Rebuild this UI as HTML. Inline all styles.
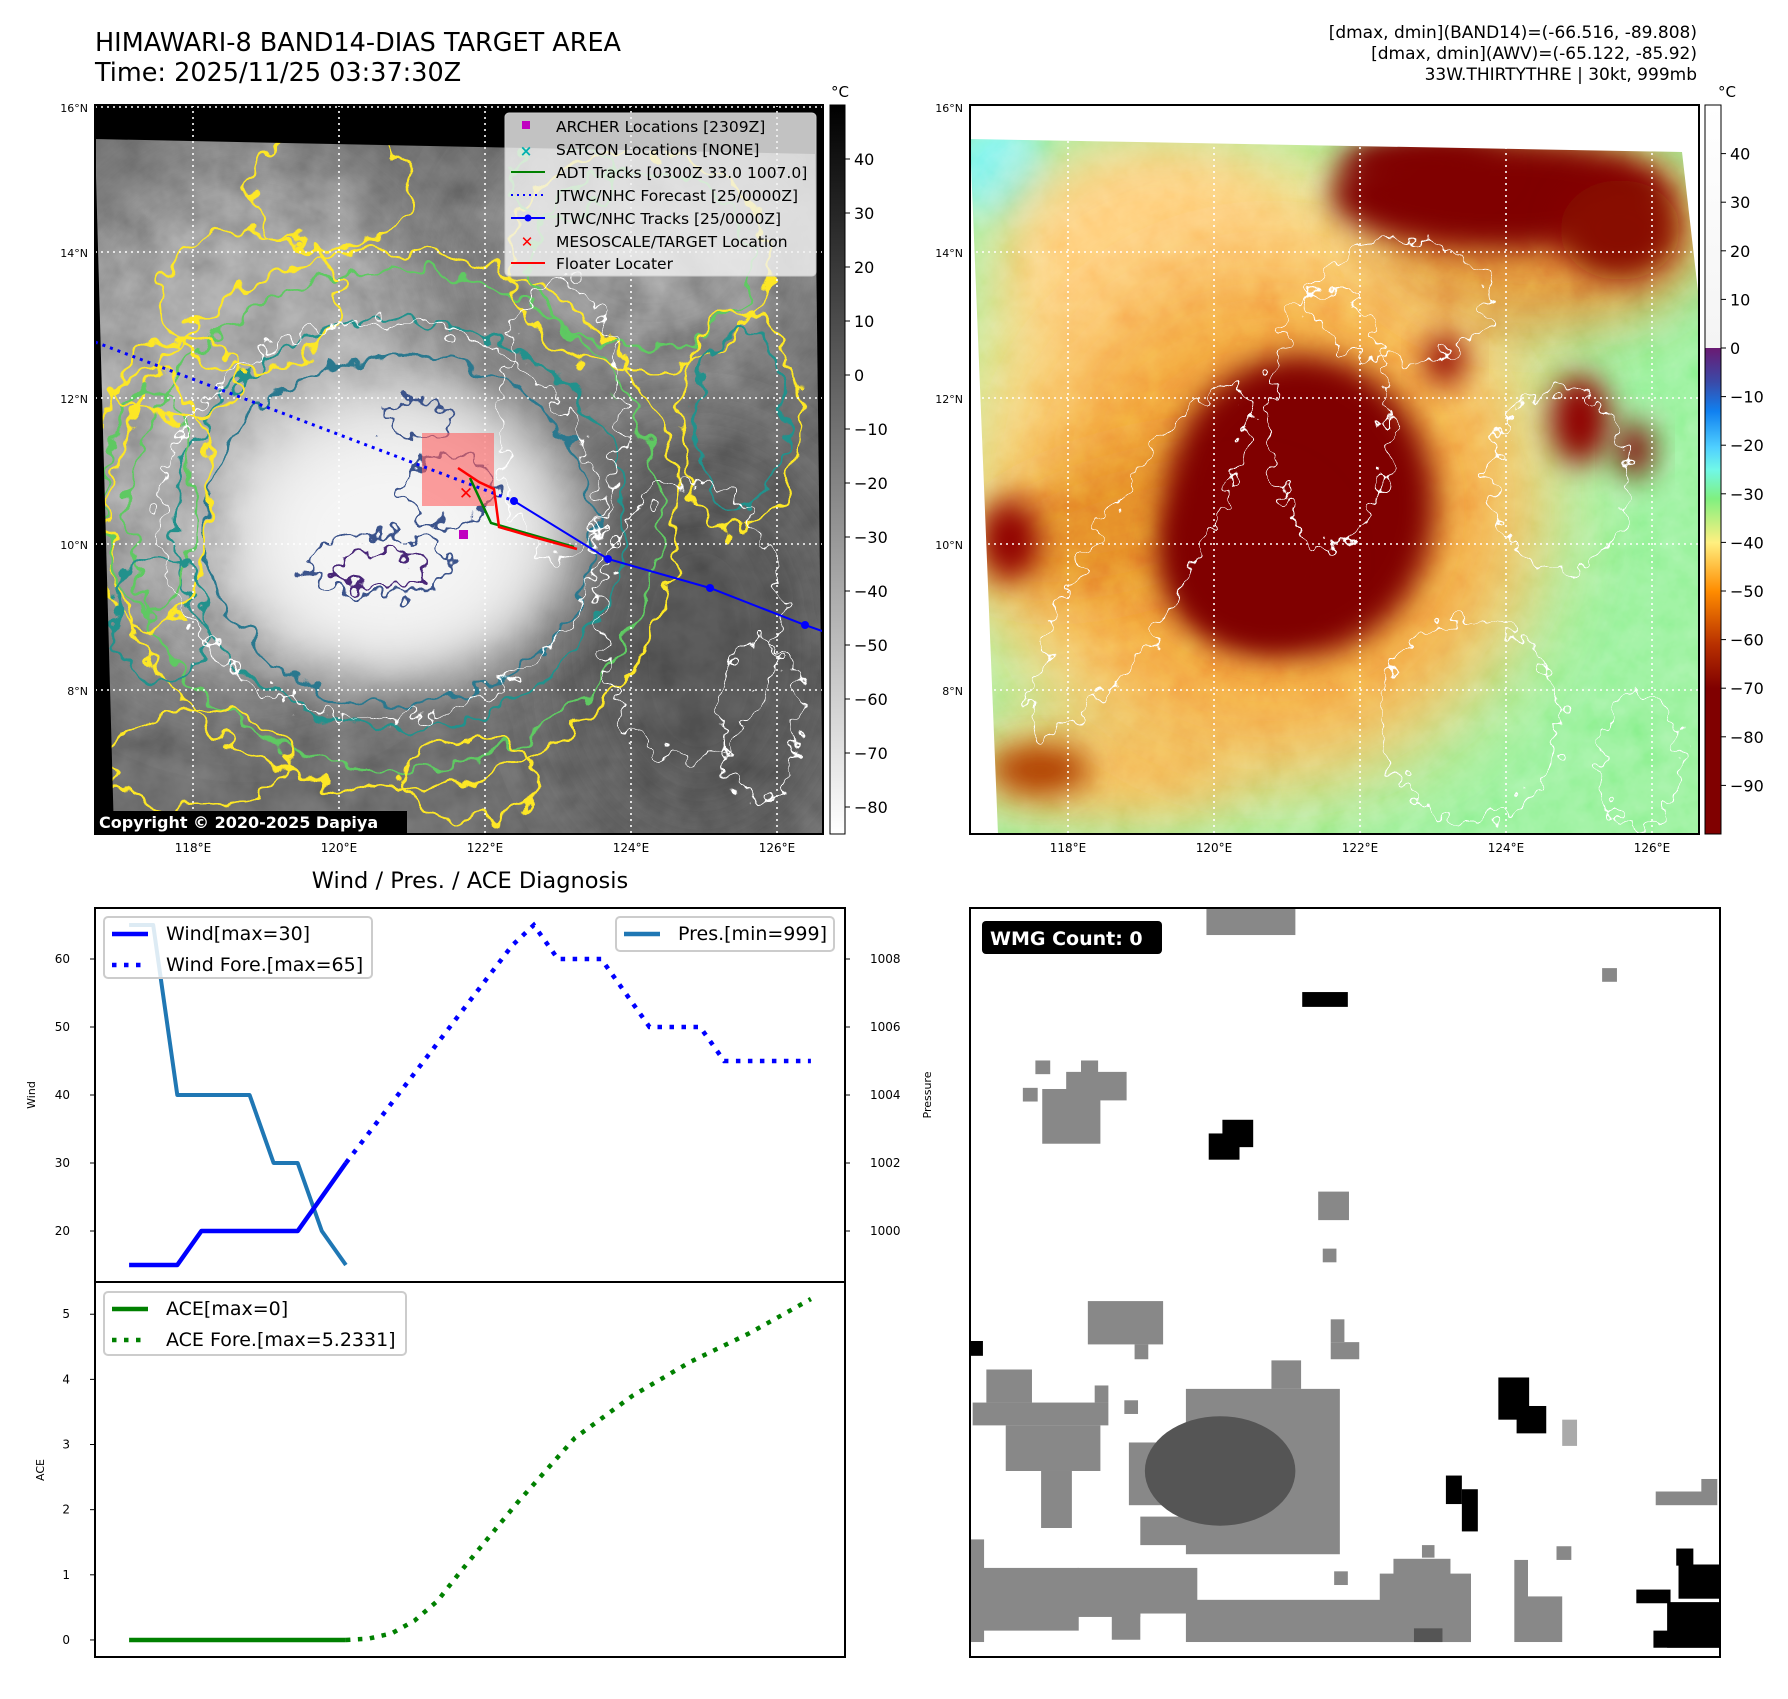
<!DOCTYPE html>
<html><head><meta charset="utf-8"><style>
html,body{margin:0;padding:0;background:#fff;}
body{width:1788px;height:1694px;position:relative;overflow:hidden;font-family:"Liberation Sans","DejaVu Sans",sans-serif;}
svg text{font-family:"DejaVu Sans","Liberation Sans",sans-serif;}
</style></head><body>
<svg id="fig" width="1788" height="1694" viewBox="0 0 1788 1694" xmlns="http://www.w3.org/2000/svg">
<defs>
  <filter id="grayNoise" x="0" y="0" width="100%" height="100%">
    <feTurbulence type="fractalNoise" baseFrequency="0.025" numOctaves="4" seed="3"/>
    <feColorMatrix type="matrix" values="0.33 0.33 0.33 0 0  0.33 0.33 0.33 0 0  0.33 0.33 0.33 0 0  0 0 0 0 1"/>
  </filter>
  <filter id="colNoise" x="0" y="0" width="100%" height="100%">
    <feTurbulence type="fractalNoise" baseFrequency="0.035" numOctaves="4" seed="7"/>
    <feColorMatrix type="matrix" values="0.33 0.33 0.33 0 0  0.33 0.33 0.33 0 0  0.33 0.33 0.33 0 0  0 0 0 0 1"/>
  </filter>
  <filter id="wiggle" x="-10%" y="-10%" width="120%" height="120%">
    <feTurbulence type="fractalNoise" baseFrequency="0.045" numOctaves="2" seed="5" result="n"/>
    <feDisplacementMap in="SourceGraphic" in2="n" scale="34" xChannelSelector="R" yChannelSelector="G"/>
  </filter>
  <filter id="wiggle2" x="-10%" y="-10%" width="120%" height="120%">
    <feTurbulence type="fractalNoise" baseFrequency="0.06" numOctaves="2" seed="11" result="n"/>
    <feDisplacementMap in="SourceGraphic" in2="n" scale="40" xChannelSelector="R" yChannelSelector="G"/>
  </filter>
  <filter id="blur30" x="-60%" y="-60%" width="220%" height="220%"><feGaussianBlur stdDeviation="30"/></filter>
  <filter id="blur15" x="-60%" y="-60%" width="220%" height="220%"><feGaussianBlur stdDeviation="15"/></filter>
  <filter id="blur50" x="-60%" y="-60%" width="220%" height="220%"><feGaussianBlur stdDeviation="50"/></filter>
  <clipPath id="clipL"><rect x="95" y="105" width="728" height="729"/></clipPath>
  <clipPath id="clipLimg"><polygon points="95,139 815,154 823,834 114,834"/></clipPath>
  <clipPath id="clipR"><polygon points="970,139 1682,152 1699,300 1699,834 998,834"/></clipPath>
  <linearGradient id="cbL" x1="0" y1="0" x2="0" y2="1">
    <stop offset="0" stop-color="#000"/><stop offset="1" stop-color="#fff"/>
  </linearGradient>
  <linearGradient id="cbR" x1="0" y1="0" x2="0" y2="1">
    <stop offset="0" stop-color="#ffffff"/>
    <stop offset="0.333" stop-color="#f4f4f4"/>
    <stop offset="0.3334" stop-color="#6a1a72"/>
    <stop offset="0.38" stop-color="#3a4aa8"/>
    <stop offset="0.42" stop-color="#1080f0"/>
    <stop offset="0.47" stop-color="#50d0ff"/>
    <stop offset="0.5" stop-color="#70f8e8"/>
    <stop offset="0.54" stop-color="#80f080"/>
    <stop offset="0.6" stop-color="#fff080"/>
    <stop offset="0.667" stop-color="#ff8c00"/>
    <stop offset="0.74" stop-color="#b83000"/>
    <stop offset="0.8" stop-color="#800000"/>
    <stop offset="1" stop-color="#800000"/>
  </linearGradient>
</defs>

<!-- Titles -->
<text x="95" y="51" font-size="25.5">HIMAWARI-8 BAND14-DIAS TARGET AREA</text>
<text x="95" y="81" font-size="25.5">Time: 2025/11/25 03:37:30Z</text>
<g font-size="17" text-anchor="end">
  <text x="1697" y="38">[dmax, dmin](BAND14)=(-66.516, -89.808)</text>
  <text x="1697" y="59">[dmax, dmin](AWV)=(-65.122, -85.92)</text>
  <text x="1697" y="80">33W.THIRTYTHRE | 30kt, 999mb</text>
</g>

<!-- LEFT MAP -->
<g clip-path="url(#clipL)">
  <rect x="95" y="105" width="728" height="729" fill="#000"/>
  <g clip-path="url(#clipLimg)">
    <rect x="95" y="105" width="728" height="729" fill="#575757"/>
    <ellipse cx="250" cy="420" rx="200" ry="260" fill="#8a8a8a" filter="url(#blur50)"/>
    <ellipse cx="650" cy="260" rx="160" ry="120" fill="#7a7a7a" filter="url(#blur50)"/>
    <ellipse cx="700" cy="650" rx="140" ry="200" fill="#444" filter="url(#blur50)"/>
    <rect x="95" y="105" width="728" height="729" filter="url(#grayNoise)" opacity="0.6" style="mix-blend-mode:overlay"/>
    <ellipse cx="400" cy="530" rx="180" ry="150" fill="#e0e0e0" filter="url(#blur30)"/>
    <ellipse cx="390" cy="540" rx="130" ry="110" fill="#f4f4f4" filter="url(#blur30)"/>
    <g filter="url(#wiggle)" fill="none" stroke-width="3">
      <ellipse cx="395" cy="520" rx="285" ry="270" stroke="#fde725"/>
      <ellipse cx="395" cy="520" rx="265" ry="250" stroke="#5ec962"/>
      <ellipse cx="400" cy="525" rx="225" ry="205" stroke="#21918c"/>
      <ellipse cx="400" cy="530" rx="195" ry="175" stroke="#2a788e"/>
      <ellipse cx="250" cy="300" rx="90" ry="70" stroke="#fde725"/>
      <ellipse cx="150" cy="500" rx="60" ry="130" stroke="#fde725"/>
      <ellipse cx="150" cy="500" rx="45" ry="110" stroke="#5ec962"/>
      <ellipse cx="160" cy="620" rx="50" ry="60" stroke="#21918c"/>
      <ellipse cx="640" cy="260" rx="130" ry="110" stroke="#fde725"/>
      <ellipse cx="640" cy="260" rx="110" ry="90" stroke="#5ec962"/>
      <ellipse cx="740" cy="420" rx="60" ry="110" stroke="#fde725"/>
      <ellipse cx="740" cy="420" rx="45" ry="90" stroke="#21918c"/>
      <ellipse cx="330" cy="190" rx="80" ry="60" stroke="#fde725"/>
      <ellipse cx="200" cy="760" rx="90" ry="50" stroke="#fde725"/>
      <ellipse cx="470" cy="780" rx="70" ry="40" stroke="#fde725"/>
      <ellipse cx="180" cy="380" rx="60" ry="40" stroke="#fde725"/>
      <ellipse cx="560" cy="180" rx="50" ry="40" stroke="#5ec962"/>
    </g>
    <g filter="url(#wiggle2)" fill="none" stroke-width="3" stroke="#3b528b">
      <ellipse cx="380" cy="565" rx="70" ry="30"/>
      <ellipse cx="450" cy="490" rx="45" ry="35"/>
      <ellipse cx="420" cy="420" rx="35" ry="20"/>
      <ellipse cx="380" cy="570" rx="45" ry="18" stroke="#482878"/>
    </g>
    <g filter="url(#wiggle2)" fill="none" stroke-width="1.5" stroke="#fff">
      <ellipse cx="690" cy="620" rx="90" ry="140"/>
      <ellipse cx="560" cy="420" rx="60" ry="140"/>
      <ellipse cx="760" cy="720" rx="40" ry="80"/>
      <ellipse cx="380" cy="520" rx="220" ry="200"/>
    </g>
  </g>
  <g stroke="#fff" stroke-width="1.6" stroke-dasharray="2 4">
    <line x1="193" y1="105" x2="193" y2="834"/><line x1="339" y1="105" x2="339" y2="834"/>
    <line x1="485" y1="105" x2="485" y2="834"/><line x1="631" y1="105" x2="631" y2="834"/>
    <line x1="777" y1="105" x2="777" y2="834"/>
    <line x1="95" y1="107" x2="823" y2="107"/><line x1="95" y1="252" x2="823" y2="252"/>
    <line x1="95" y1="398" x2="823" y2="398"/><line x1="95" y1="544" x2="823" y2="544"/>
    <line x1="95" y1="690" x2="823" y2="690"/>
  </g>
  <rect x="422" y="433" width="72" height="73" fill="#ff6060" opacity="0.6"/>
  <polyline points="95,342 514,501" fill="none" stroke="#00f" stroke-width="3" stroke-dasharray="3 5"/>
  <polyline points="514,501 608,559 710,588 805,625 825,632" fill="none" stroke="#00f" stroke-width="2"/>
  <g fill="#00f"><circle cx="514" cy="501" r="4"/><circle cx="608" cy="559" r="4"/><circle cx="710" cy="588" r="4"/><circle cx="805" cy="625" r="4"/></g>
  <polyline points="470,478 491,523 574,547" fill="none" stroke="#008000" stroke-width="2.5"/>
  <polyline points="458,468 479,482 494,489 499,527 530,536 577,549" fill="none" stroke="#f00" stroke-width="2.5"/>
  <text x="466" y="499" fill="#f00" font-size="17" font-weight="bold" text-anchor="middle">✕</text>
  <rect x="459" y="530" width="9" height="9" fill="#c000c0"/>
  <g>
    <rect x="505" y="113" width="311" height="163" rx="4" fill="#f2f2f2" fill-opacity="0.8" stroke="#ccc"/>
    <g font-size="15.5" fill="#000">
      <rect x="522" y="121" width="8" height="8" fill="#c000c0"/><text x="556" y="132">ARCHER Locations [2309Z]</text>
      <text x="526" y="156" fill="#00b0b0" font-size="15" text-anchor="middle" font-weight="bold">×</text><text x="556" y="155">SATCON Locations [NONE]</text>
      <line x1="511" y1="172" x2="545" y2="172" stroke="#008000" stroke-width="2"/><text x="556" y="178">ADT Tracks [0300Z 33.0 1007.0]</text>
      <line x1="511" y1="195" x2="545" y2="195" stroke="#00f" stroke-width="2" stroke-dasharray="2 4"/><text x="556" y="201">JTWC/NHC Forecast [25/0000Z]</text>
      <line x1="511" y1="218" x2="545" y2="218" stroke="#00f" stroke-width="2"/><circle cx="528" cy="218" r="3.5" fill="#00f"/><text x="556" y="224">JTWC/NHC Tracks [25/0000Z]</text>
      <text x="527" y="247" fill="#f00" font-size="15" font-weight="bold" text-anchor="middle">✕</text><text x="556" y="247">MESOSCALE/TARGET Location</text>
      <line x1="511" y1="263" x2="545" y2="263" stroke="#f00" stroke-width="2"/><text x="556" y="269">Floater Locater</text>
    </g>
  </g>
  <rect x="95" y="811" width="312" height="23" fill="#000"/>
  <text x="99" y="828" fill="#fff" font-size="16" font-weight="bold">Copyright © 2020-2025 Dapiya</text>
</g>
<rect x="95" y="105" width="728" height="729" fill="none" stroke="#000" stroke-width="2"/>
<g font-size="11" text-anchor="end">
  <text x="88" y="112">16°N</text><text x="88" y="257">14°N</text><text x="88" y="403">12°N</text><text x="88" y="549">10°N</text><text x="88" y="695">8°N</text>
</g>
<g font-size="12" text-anchor="middle">
  <text x="193" y="852">118°E</text><text x="339" y="852">120°E</text><text x="485" y="852">122°E</text><text x="631" y="852">124°E</text><text x="777" y="852">126°E</text>
</g>
<!-- Left colorbar -->
<g>
  <rect x="830" y="105" width="15" height="729" fill="url(#cbL)" stroke="#000" stroke-width="1"/>
  <text x="840" y="97" font-size="15" text-anchor="middle">°C</text>
  <g font-size="16" id="cbLticks"></g>
</g>

<!-- RIGHT MAP -->
<g>
  <g clip-path="url(#clipR)">
    <rect x="970" y="105" width="729" height="729" fill="#88f08c"/>
    <ellipse cx="1000" cy="170" rx="50" ry="50" fill="#70f4f0" filter="url(#blur15)"/>
    <ellipse cx="1250" cy="470" rx="300" ry="320" fill="#ffd878" filter="url(#blur50)"/>
    <ellipse cx="1150" cy="260" rx="150" ry="120" fill="#ffc870" filter="url(#blur30)"/>
    <ellipse cx="1100" cy="770" rx="140" ry="50" fill="#f8b050" filter="url(#blur30)"/>
    <ellipse cx="1270" cy="510" rx="240" ry="240" fill="#f09030" filter="url(#blur50)"/>
    <ellipse cx="1130" cy="520" rx="170" ry="60" fill="#e07820" transform="rotate(-15 1130 520)" filter="url(#blur30)"/>
    <ellipse cx="1540" cy="230" rx="170" ry="100" fill="#e08030" filter="url(#blur30)"/>
    <rect x="970" y="105" width="729" height="729" filter="url(#colNoise)" opacity="0.45" style="mix-blend-mode:overlay"/>
    <ellipse cx="1300" cy="505" rx="135" ry="150" fill="#800000" filter="url(#blur15)"/>
    <ellipse cx="1250" cy="560" rx="90" ry="90" fill="#800000" filter="url(#blur15)"/>
    <ellipse cx="1500" cy="195" rx="170" ry="55" fill="#800000" filter="url(#blur15)"/>
    <ellipse cx="1420" cy="165" rx="80" ry="30" fill="#800000" filter="url(#blur15)"/>
    <ellipse cx="1620" cy="230" rx="60" ry="50" fill="#880800" filter="url(#blur15)"/>
    <ellipse cx="1445" cy="360" rx="20" ry="25" fill="#900000" filter="url(#blur15)"/>
    <ellipse cx="1580" cy="420" rx="30" ry="45" fill="#900000" filter="url(#blur15)"/>
    <ellipse cx="1635" cy="450" rx="18" ry="28" fill="#800000" filter="url(#blur15)"/>
    <ellipse cx="1010" cy="540" rx="30" ry="40" fill="#900000" filter="url(#blur15)"/>
    <ellipse cx="1040" cy="770" rx="50" ry="25" fill="#b04000" filter="url(#blur15)"/>
    <g filter="url(#wiggle2)" fill="none" stroke-width="1.5" stroke="#fff">
      <ellipse cx="1470" cy="720" rx="90" ry="100"/>
      <ellipse cx="1330" cy="420" rx="60" ry="130"/>
      <ellipse cx="1640" cy="760" rx="40" ry="70"/>
      <ellipse cx="1140" cy="560" rx="50" ry="200" transform="rotate(30 1140 560)"/>
      <ellipse cx="1400" cy="300" rx="90" ry="60"/>
      <ellipse cx="1560" cy="480" rx="70" ry="90"/>
    </g>
  </g>
  <g stroke="#fff" stroke-width="1.6" stroke-dasharray="2 4">
    <line x1="1068" y1="105" x2="1068" y2="834"/><line x1="1214" y1="105" x2="1214" y2="834"/>
    <line x1="1360" y1="105" x2="1360" y2="834"/><line x1="1506" y1="105" x2="1506" y2="834"/>
    <line x1="1652" y1="105" x2="1652" y2="834"/>
    <line x1="970" y1="252" x2="1699" y2="252"/><line x1="970" y1="398" x2="1699" y2="398"/>
    <line x1="970" y1="544" x2="1699" y2="544"/><line x1="970" y1="690" x2="1699" y2="690"/>
  </g>
  <rect x="970" y="105" width="729" height="729" fill="none" stroke="#000" stroke-width="2"/>
</g>
<g font-size="11" text-anchor="end">
  <text x="963" y="112">16°N</text><text x="963" y="257">14°N</text><text x="963" y="403">12°N</text><text x="963" y="549">10°N</text><text x="963" y="695">8°N</text>
</g>
<g font-size="12" text-anchor="middle">
  <text x="1068" y="852">118°E</text><text x="1214" y="852">120°E</text><text x="1360" y="852">122°E</text><text x="1506" y="852">124°E</text><text x="1652" y="852">126°E</text>
</g>
<g>
  <rect x="1705" y="105" width="16" height="729" fill="url(#cbR)" stroke="#000" stroke-width="1"/>
  <text x="1727" y="97" font-size="15" text-anchor="middle">°C</text>
  <g font-size="16" id="cbRticks"></g>
</g>

<!-- DIAGNOSIS CHARTS -->
<text x="470" y="888" font-size="22.5" text-anchor="middle">Wind / Pres. / ACE Diagnosis</text>
<g id="windPanel"></g>
<g id="acePanel"></g>
<rect x="95" y="908" width="750" height="374" fill="none" stroke="#000" stroke-width="2"/>
<rect x="95" y="1282" width="750" height="375" fill="none" stroke="#000" stroke-width="2"/>
<text x="35" y="1095" font-size="11" text-anchor="middle" transform="rotate(-90 35 1095)">Wind</text>
<text x="931" y="1095" font-size="11" text-anchor="middle" transform="rotate(-90 931 1095)">Pressure</text>
<text x="44" y="1470" font-size="11" text-anchor="middle" transform="rotate(-90 44 1470)">ACE</text>

<!-- WMG panel -->
<g>
  <rect x="970" y="908" width="750" height="749" fill="#fff"/>
  <g transform="scale(1.1403)">
    <g fill="#888">
      <rect x="1058" y="796" width="78" height="24"/>
      <rect x="1405" y="849" width="13" height="12"/>
      <rect x="908" y="930" width="13" height="12"/><rect x="897" y="954" width="13" height="12"/>
      <rect x="914" y="955" width="51" height="48"/><rect x="935" y="940" width="53" height="25"/><rect x="948" y="930" width="15" height="12"/>
      <rect x="1156" y="1045" width="27" height="25"/><rect x="1160" y="1095" width="12" height="12"/>
      <rect x="954" y="1141" width="66" height="38"/><rect x="995" y="1179" width="12" height="13"/>
      <rect x="1167" y="1157" width="12" height="20"/><rect x="1167" y="1177" width="25" height="15"/>
      <rect x="865" y="1201" width="40" height="29"/><rect x="853" y="1230" width="119" height="20"/>
      <rect x="882" y="1250" width="83" height="40"/><rect x="913" y="1290" width="27" height="50"/><rect x="960" y="1215" width="12" height="15"/>
      <rect x="986" y="1228" width="12" height="12"/>
      <rect x="1115" y="1193" width="26" height="25"/><rect x="1040" y="1218" width="135" height="145"/><rect x="990" y="1265" width="60" height="55"/>
      <rect x="1452" y="1308" width="54" height="12"/><rect x="1492" y="1297" width="14" height="12"/>
      <rect x="851" y="1350" width="12" height="90"/><rect x="851" y="1375" width="95" height="55"/><rect x="900" y="1388" width="100" height="30"/>
      <rect x="945" y="1375" width="105" height="40"/><rect x="975" y="1410" width="25" height="28"/>
      <rect x="1040" y="1403" width="250" height="37"/><rect x="1210" y="1380" width="80" height="60"/><rect x="1222" y="1367" width="50" height="15"/>
      <rect x="1328" y="1368" width="12" height="72"/><rect x="1340" y="1400" width="30" height="40"/>
      <rect x="1365" y="1356" width="13" height="12"/><rect x="1247" y="1355" width="11" height="11"/><rect x="1170" y="1378" width="12" height="12"/>
      <rect x="1000" y="1330" width="50" height="25"/><rect x="1100" y="1340" width="40" height="20"/>
    </g>
    <ellipse cx="1070" cy="1290" rx="66" ry="48" fill="#555"/>
    <rect x="1240" y="1428" width="25" height="12" fill="#555"/>
    <g fill="#000">
      <rect x="1142" y="870" width="40" height="13"/>
      <rect x="1072" y="982" width="27" height="24"/><rect x="1060" y="994" width="27" height="23"/>
      <rect x="851" y="1176" width="11" height="13"/>
      <rect x="1314" y="1208" width="27" height="37"/><rect x="1330" y="1233" width="26" height="24"/>
      <rect x="1268" y="1294" width="14" height="25"/><rect x="1282" y="1306" width="14" height="37"/>
      <rect x="1470" y="1358" width="15" height="15"/><rect x="1472" y="1372" width="36" height="30"/><rect x="1435" y="1394" width="30" height="12"/>
      <rect x="1462" y="1405" width="46" height="40"/><rect x="1450" y="1430" width="58" height="15"/>
    </g>
    <rect x="1370" y="1245" width="13" height="23" fill="#aaa"/>
  </g>
  <rect x="970" y="908" width="750" height="749" fill="none" stroke="#000" stroke-width="2"/>
  <rect x="982" y="921" width="180" height="33" rx="4" fill="#000"/>
  <text x="990" y="945" fill="#fff" font-size="19" font-weight="bold">WMG Count: 0</text>
</g>

<script>
// ---- chart data ----
const obsIdx = [0,1,2,3,4,5,6,7,8,9];
const windObs = [15,15,15,20,20,20,20,20,25,30];
const presObs = [1009,1009,1004,1004,1004,1004,1002,1002,1000,999];
const foreIdx = [9,15.9,16.8,17.8,19.6,21.6,23.7,24.7,28.3];
const windFore = [30,62,65,60,60,50,50,45,45];
const aceObs = [0,0,0,0,0,0,0,0,0,0];
const aceForeIdx = [9,9.95,10.9,11.86,12.8,13.76,16.1,18.5,20.9,23.3,25.7,28.3];
const aceFore = [0,0.02,0.1,0.3,0.6,1.05,2.1,3.1,3.75,4.27,4.7,5.2331];
const windTicks = [20,30,40,50,60];
const presTicks = [1000,1002,1004,1006,1008];
const aceTicks = [0,1,2,3,4,5];
const cbLTicks = [40,30,20,10,0,-10,-20,-30,-40,-50,-60,-70,-80];
const cbRTicks = [40,30,20,10,0,-10,-20,-30,-40,-50,-60,-70,-80,-90];

const NS='http://www.w3.org/2000/svg';
function mk(tag, attrs, parent){const e=document.createElementNS(NS,tag);for(const k in attrs)e.setAttribute(k,attrs[k]);parent.appendChild(e);return e;}
const xMin=-1.415, xMax=29.715;
function X(i){return 95+(i-xMin)/(xMax-xMin)*750;}
function YW(w){return 1282-(w-12.5)/55*374;}
function YP(p){return YW(20+(p-1000)*5);}
function YA(a){return 1657-(a+0.2617)/(5.2331+0.5233)*375;}
function pts(xs,ys,fy){return xs.map((x,i)=>X(x).toFixed(1)+','+fy(ys[i]).toFixed(1)).join(' ');}

const wp=document.getElementById('windPanel');
const ap=document.getElementById('acePanel');
function neg(v){return v<0?'\u2212'+Math.abs(v):String(v);}

windTicks.forEach(t=>{
  const l=mk('line',{x1:90,x2:95,y1:YW(t),y2:YW(t),stroke:'#000'},wp);
  
  
  const tx=mk('text',{x:70,y:YW(t)+4,'font-size':12,'text-anchor':'end'},wp);tx.textContent=t;
  
  
});
presTicks.forEach(t=>{
  const l=mk('line',{x1:845,x2:850,y1:YP(t),y2:YP(t),stroke:'#000'},wp);
  
  
  const tx=mk('text',{x:870,y:YP(t)+4,'font-size':12},wp);tx.textContent=t;
  
  
});
aceTicks.forEach(t=>{
  const l=mk('line',{x1:90,x2:95,y1:YA(t),y2:YA(t),stroke:'#000'},ap);
  
  
  const tx=mk('text',{x:70,y:YA(t)+4,'font-size':12,'text-anchor':'end'},ap);tx.textContent=t;
  
  
});

let e;
e=mk('polyline',{points:pts(obsIdx,presObs,YP),fill:'none',stroke:'#1f77b4','stroke-width':4,'stroke-linejoin':'round'},wp);


e=mk('polyline',{points:pts(obsIdx,windObs,YW),fill:'none',stroke:'#0000ff','stroke-width':4.5,'stroke-linejoin':'round'},wp);


e=mk('polyline',{points:pts(foreIdx,windFore,YW),fill:'none',stroke:'#0000ff','stroke-width':4.5,'stroke-dasharray':'4.5 7.5'},wp);


e=mk('polyline',{points:pts(obsIdx,aceObs,YA),fill:'none',stroke:'#008000','stroke-width':4.5},ap);


e=mk('polyline',{points:pts(aceForeIdx,aceFore,YA),fill:'none',stroke:'#008000','stroke-width':4.5,'stroke-dasharray':'4.5 7.5'},ap);



// legends
function legend(parent,x,y,w,h,items,name){
  const g=mk('g',{},parent);
  
  
  mk('rect',{x:x,y:y,width:w,height:h,rx:4,fill:'#fff','fill-opacity':0.85,stroke:'#ccc','stroke-width':2},g);
  items.forEach((it,i)=>{
    const cy=y+17+i*31;
    const a={x1:x+8,x2:x+44,y1:cy,y2:cy,stroke:it.c,'stroke-width':4.5};
    if(it.d)a['stroke-dasharray']='4.5 7.5';
    mk('line',a,g);
    const t=mk('text',{x:x+62,y:cy+6,'font-size':19},g);t.textContent=it.t;
  });
}
legend(wp,104,917,268,61,[{c:'#0000ff',t:'Wind[max=30]'},{c:'#0000ff',t:'Wind Fore.[max=65]',d:1}],'wind-legend');
legend(wp,616,917,218,34,[{c:'#1f77b4',t:'Pres.[min=999]'}],'pressure-legend');
legend(ap,104,1292,302,63,[{c:'#008000',t:'ACE[max=0]'},{c:'#008000',t:'ACE Fore.[max=5.2331]',d:1}],'ace-legend');

// colorbar ticks
const gl=document.getElementById('cbLticks');
cbLTicks.forEach(v=>{
  const y=834-(v+85)/135*729;
  mk('line',{x1:845,x2:850,y1:y,y2:y,stroke:'#000'},gl);
  const t=mk('text',{x:854,y:y+6},gl);t.textContent=neg(v);
  
  
});
const gr=document.getElementById('cbRticks');
cbRTicks.forEach(v=>{
  const y=834-(v+100)/150*729;
  mk('line',{x1:1721,x2:1726,y1:y,y2:y,stroke:'#000'},gr);
  const t=mk('text',{x:1730,y:y+6},gr);t.textContent=neg(v);
  
  
});
</script>
</svg>
</body></html>
